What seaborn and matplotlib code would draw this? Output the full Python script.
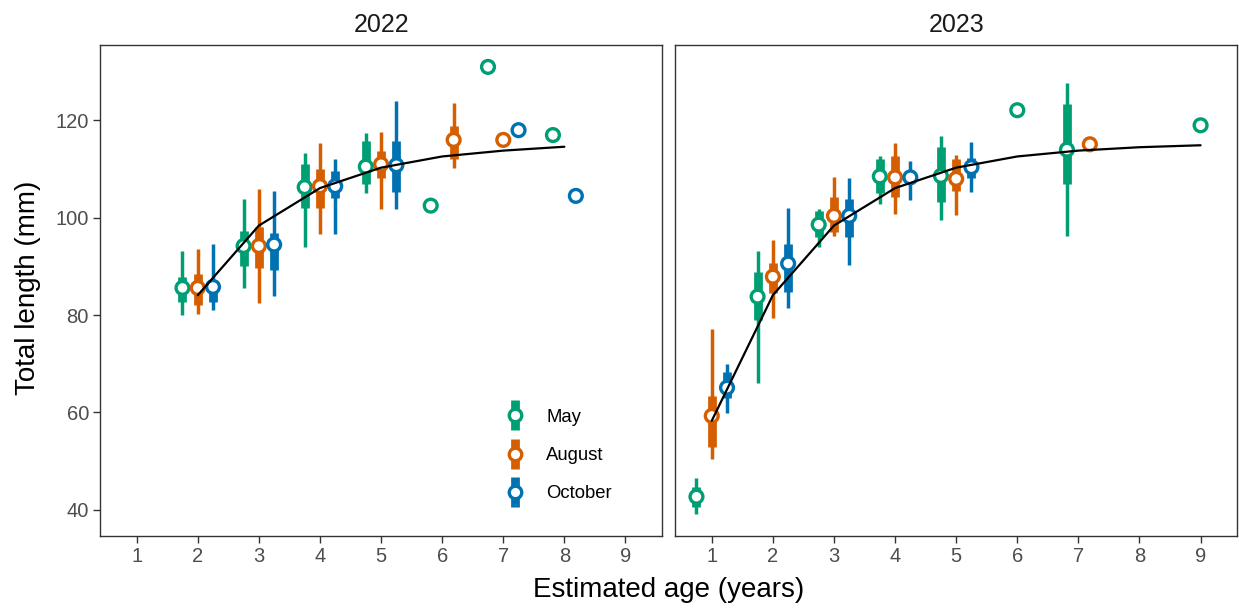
import numpy as np
import pandas as pd
import matplotlib
matplotlib.use("Agg")
import matplotlib.pyplot as plt
import seaborn as sns
from matplotlib.lines import Line2D
from matplotlib.legend_handler import HandlerTuple

nan = np.nan

months = ["May", "August", "October"]
colors = ["#009E73", "#D55E00", "#0072B2"]

# 2022 sampling: median, outer range (lo/hi) and inner range (q1/q3)
age_2022 = [2, 2, 2, 3, 3, 3, 4, 4, 4, 5, 5, 5, 6, 6, 7, 7, 7, 8, 8]
month_2022 = ["May", "August", "October", "May", "August", "October",
              "May", "August", "October", "May", "August", "October",
              "May", "August", "May", "August", "October", "May", "October"]
mid_2022 = [85.6, 85.6, 85.8, 94.2, 94.2, 94.5, 106.3, 106.5, 106.5,
            110.5, 111.0, 110.8, 102.5, 116.0, 131.0, 116.0, 118.0, 117.0, 104.5]
lo_2022 = [80.0, 80.2, 81.0, 85.5, 82.4, 84.0, 94.0, 96.6, 96.6,
           105.0, 101.9, 101.9, nan, 110.3, nan, nan, nan, nan, nan]
hi_2022 = [93.2, 93.6, 94.7, 103.8, 106.0, 105.5, 113.4, 115.4, 112.0,
           117.5, 117.6, 124.0, nan, 123.5, nan, nan, nan, nan, nan]
q1_2022 = [82.6, 82.1, 82.6, 90.1, 89.7, 89.2, 102.1, 102.1, 104.1,
           106.9, 108.2, 105.2, nan, 112.1, nan, nan, nan, nan, nan]
q3_2022 = [87.8, 88.4, 86.5, 97.3, 98.2, 96.9, 111.0, 110.0, 109.7,
           115.8, 113.7, 115.8, nan, 118.8, nan, nan, nan, nan, nan]

# 2023 sampling
age_2023 = [1, 1, 1, 2, 2, 2, 3, 3, 3, 4, 4, 4, 5, 5, 5, 6, 7, 7, 9]
month_2023 = ["May", "August", "October", "May", "August", "October",
              "May", "August", "October", "May", "August", "October",
              "May", "August", "October", "May", "May", "August", "May"]
mid_2023 = [42.7, 59.3, 65.1, 83.8, 87.9, 90.6, 98.6, 100.4, 100.4,
            108.5, 108.3, 108.3, 108.6, 108.0, 110.4, 122.1, 114.0, 115.1, 119.0]
lo_2023 = [39.2, 50.5, 59.8, 66.0, 79.5, 81.4, 94.0, 96.2, 90.3,
           102.8, 100.8, 103.6, 99.5, 100.5, 105.3, nan, 96.2, nan, nan]
hi_2023 = [46.6, 77.1, 69.9, 93.1, 95.4, 102.1, 101.8, 108.4, 108.1,
           112.7, 115.3, 111.7, 116.8, 112.9, 115.5, nan, 127.6, nan, nan]
q1_2023 = [40.6, 52.9, 62.9, 79.0, 84.5, 84.7, 96.1, 97.1, 96.1,
           105.0, 104.2, 107.1, 103.2, 105.5, 108.1, nan, 106.9, nan, nan]
q3_2023 = [44.7, 63.4, 68.4, 88.9, 90.8, 94.7, 101.3, 104.3, 103.8,
           112.0, 112.7, 109.5, 114.6, 112.0, 112.2, nan, 123.4, nan, nan]

# fitted growth curve
fit_age_2022 = [2, 3, 4, 5, 6, 7, 8]
fit_len_2022 = [84.1, 98.4, 106.1, 110.3, 112.6, 113.8, 114.6]
fit_age_2023 = [1, 2, 3, 4, 5, 6, 7, 8, 9]
fit_len_2023 = [58.3, 84.1, 98.4, 106.1, 110.3, 112.6, 113.8, 114.5, 114.9]


def _year_frame(year, age, month, mid, lo, hi, q1, q3):
    df = pd.DataFrame({"age": age, "month": month, "mid": mid,
                       "lo": lo, "hi": hi, "q1": q1, "q3": q3})
    df["year"] = year
    return df


def _dodge(df, width=0.75):
    """ggplot-like position_dodge: spread months present at each age."""
    df = df.copy()
    df["order"] = df["month"].map({m: i for i, m in enumerate(months)})
    df = df.sort_values(["age", "order"])
    n = df.groupby("age")["month"].transform("count")
    rank = df.groupby("age").cumcount()
    df["x"] = df["age"] + (rank - (n - 1) / 2) * width / n
    return df


data = {
    2022: _dodge(_year_frame(2022, age_2022, month_2022, mid_2022,
                             lo_2022, hi_2022, q1_2022, q3_2022)),
    2023: _dodge(_year_frame(2023, age_2023, month_2023, mid_2023,
                             lo_2023, hi_2023, q1_2023, q3_2023)),
}
fits = {2022: (fit_age_2022, fit_len_2022), 2023: (fit_age_2023, fit_len_2023)}

sns.set_theme(style="white")
plt.rcParams["font.family"] = ["Liberation Sans", "DejaVu Sans"]
plt.rcParams["text.color"] = "black"

fig, axes = plt.subplots(1, 2, figsize=(12.39, 6.08), dpi=100, sharey=True)
fig.subplots_adjust(left=0.0807, right=0.9986, top=0.926, bottom=0.119, wspace=0.023)

pal = dict(zip(months, colors))
for ax, year in zip(axes, [2022, 2023]):
    df = data[year]
    for m in months:
        sub = df[df["month"] == m].dropna(subset=["lo"])
        ax.vlines(sub["x"], sub["lo"], sub["hi"], color=pal[m], lw=2.5,
                  capstyle="butt", zorder=2)
        ax.vlines(sub["x"], sub["q1"], sub["q3"], color=pal[m], lw=6.3,
                  capstyle="butt", zorder=2)
    sns.scatterplot(data=df, x="x", y="mid", hue="month", hue_order=months,
                    palette=pal, s=85, linewidth=2.4, legend=False, ax=ax,
                    zorder=3)
    coll = ax.collections[-1]
    coll.set_edgecolors(coll.get_facecolors())
    coll.set_facecolor("white")
    fx, fy = fits[year]
    sns.lineplot(x=fx, y=fy, color="black", lw=1.6, ax=ax, zorder=4)

    ax.set_xlim(0.4, 9.6)
    ax.set_ylim(34.7, 135.5)
    ax.set_xticks(range(1, 10))
    ax.set_yticks([40, 60, 80, 100, 120])
    ax.set_xlabel("")
    ax.set_ylabel("")
    ax.set_title(str(year), fontsize=18, color="#1A1A1A", pad=9)
    ax.tick_params(axis="both", which="both", direction="out", length=5,
                   width=1, color="#333333", labelsize=14.5, labelcolor="#4D4D4D",
                   left=True, bottom=True, pad=3)
    for sp in ax.spines.values():
        sp.set_color("#333333")
        sp.set_linewidth(1)

axes[1].tick_params(axis="y", left=False, labelleft=False)

fig.text(0.54, 0.03, "Estimated age (years)", ha="center", va="center", fontsize=20)
fig.text(0.023, 0.527, "Total length (mm)", ha="center", va="center",
         rotation=90, fontsize=20)

handles = [
    (Line2D([], [], marker="|", ms=22, mew=6.3, color=c, ls="none"),
     Line2D([], [], marker="o", ms=9, mfc="white", mec=c, mew=2.4, ls="none"))
    for c in colors
]
axes[0].legend(handles, months, handler_map={tuple: HandlerTuple(ndivide=1, pad=0)},
               loc="center left", bbox_to_anchor=(0.7185, 0.1634), frameon=False,
               fontsize=13.3, handlelength=1.2, handletextpad=1.08,
               labelspacing=1.15, borderpad=0, borderaxespad=0)

fig.savefig("out.png", dpi=100)
